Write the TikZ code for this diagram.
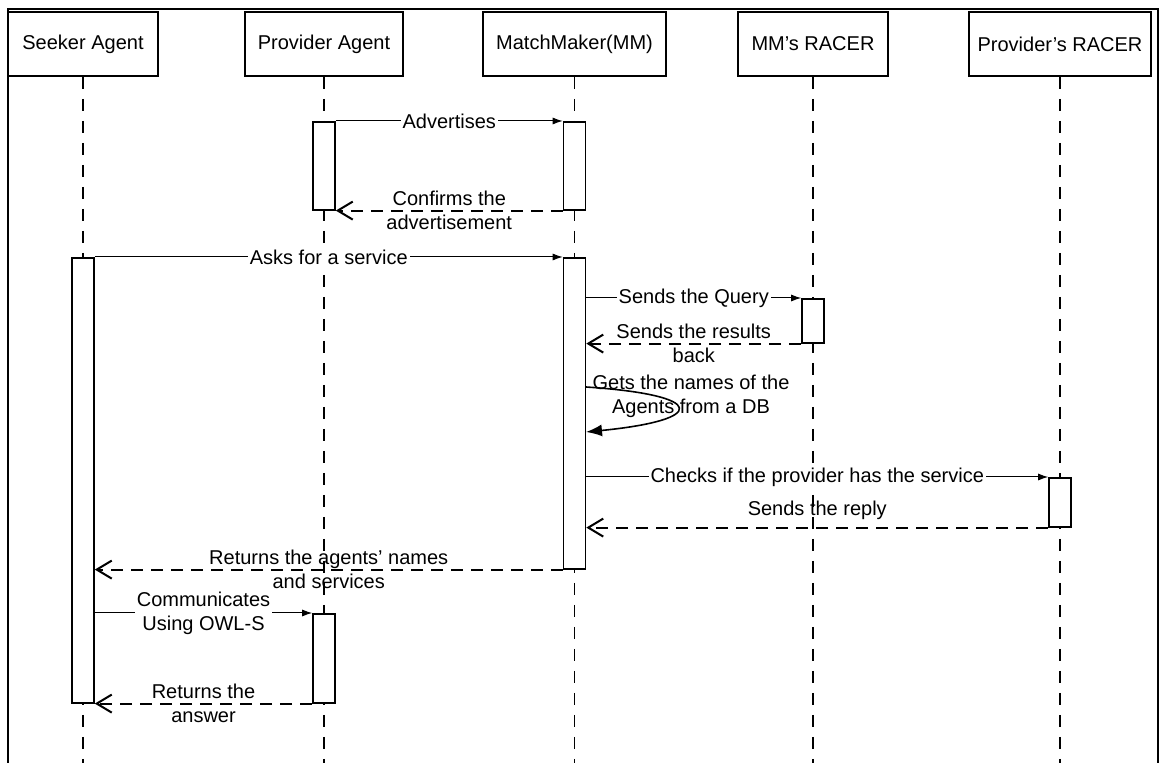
\documentclass[tikz,border=0pt]{standalone}
\usepackage{fontspec}
\setmainfont{Liberation Sans}
\usetikzlibrary{arrows.meta}

\begin{document}
\begin{tikzpicture}[x=0.5pt, y=-0.5pt,
		every node/.style={font=\fontsize{10pt}{12pt}\selectfont},
		actor/.style={draw, line width=1pt, minimum width=#1, minimum height=32pt, inner sep=0pt},
		lifeline/.style={dash pattern=on 6pt off 5pt, line width=0.7pt},
		bar/.style={draw, fill=white, line width=0.8pt, minimum width=11pt, inner sep=0pt, anchor=north},
		call/.style={-{Latex[length=5pt, width=3.5pt]}, line width=0.5pt},
		reply/.style={-{Straight Barb[length=7.5pt, width=9pt]}, dash pattern=on 6pt off 4pt, line width=1pt},
		selfcall/.style={-{Latex[length=8pt, width=6pt]}, line width=0.8pt},
		msg/.style={fill=white, inner sep=1pt, align=center},
		txt/.style={inner sep=0pt, align=center}]
			\useasboundingbox	(0, 0) rectangle (1162, 763);
			\draw[line width=1pt]	(8, 763) -- (8, 9) -- (1158, 9) -- (1158, 763);

			\node[actor=75pt]	(seeker) at (83, 44) {Seeker Agent};
			\node[actor=79pt]	(provider) at (324, 44) {Provider Agent};
			\node[actor=91.5pt]	(mm) at (574.5, 44) {MatchMaker(MM)};
			\node[actor=75pt]	(mmracer) at (813, 44) {MM's RACER};
			\node[actor=91pt]	(pracer) at (1060, 44) {Provider's RACER};

			\coordinate (bottom) at (0, 763);
			\foreach \p in {seeker, provider, mm, mmracer, pracer} {
				\draw[lifeline]	(\p.south) -- (\p.south |- bottom);
			}

			\node[bar, minimum height=44pt]		(pa1) at (324, 121) {};
			\node[bar, minimum height=44pt]		(mm1) at (574.5, 121) {};
			\node[bar, minimum height=222.5pt]	(sk1) at (83, 257) {};
			\node[bar, minimum height=155.5pt]	(mm2) at (574.5, 257) {};
			\node[bar, minimum height=22pt]		(mr1) at (813, 298) {};
			\node[bar, minimum height=24.5pt]	(pr1) at (1060, 477) {};
			\node[bar, minimum height=44.5pt]	(pa2) at (324, 613) {};

			\draw[call]		(pa1.north east) -- node[msg]{Advertises} (mm1.north west);
			\draw[reply]	(mm1.south west) -- node[txt]{Confirms the\\advertisement} (pa1.south east);
			\draw[call]		(sk1.north east) -- node[msg]{Asks for a service} (mm2.north west);
			\draw[call]		(mm2.east |- mr1.north) -- node[msg]{Sends the Query} (mr1.north west);
			\draw[reply]	(mr1.south west) -- node[txt]{Sends the results\\back} (mm2.east |- mr1.south);

			\coordinate (g1) at (586, 387);
			\coordinate (g2) at (586, 432);
			\draw[selfcall]	(g1) .. controls (708, 395) and (708, 420) .. (g2);
			\node[txt]	(gets) at (691, 396) {Gets the names of the\\Agents from a DB};

			\draw[call]		(mm2.east |- pr1.north) -- node[msg]{Checks if the provider has the service} (pr1.north west);
			\draw[reply]	(pr1.south west) -- node[txt, yshift=8.5pt]{Sends the reply} (mm2.east |- pr1.south);
			\draw[reply]	(mm2.south west) -- node[txt]{Returns the agents' names\\and services} (sk1.east |- mm2.south);
			\draw[call]		(sk1.east |- pa2.north) -- node[msg]{Communicates\\Using OWL-S} (pa2.north west);
			\draw[reply]	(pa2.south west) -- node[txt]{Returns the\\answer} (sk1.south east);
		\end{tikzpicture}
\end{document}
